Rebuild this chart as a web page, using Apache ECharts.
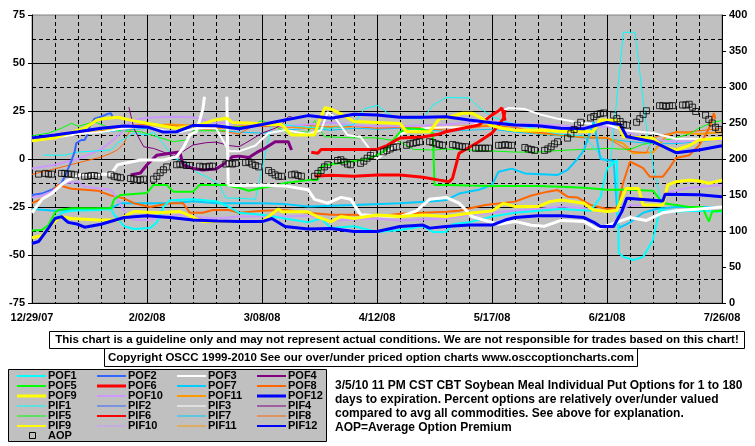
<!DOCTYPE html>
<html><head><meta charset="utf-8">
<script src="https://cdn.jsdelivr.net/npm/echarts/dist/echarts.min.js"></script>
<style>html,body{margin:0;padding:0;background:#fff}#c{width:755px;height:446px}</style>
</head><body><div id="c"></div><script>
// x values are days since 12/29/07
const dateLabels = ['12/29/07','2/02/08','3/08/08','4/12/08','5/17/08','6/21/08','7/26/08'];
const legendNames = ['POF1','POF2','POF3','POF4','POF5','POF6','POF7','POF8','POF9','POF10','POF11','POF12',
                     'PIF1','PIF2','PIF3','PIF4','PIF5','PIF6','PIF7','PIF8','PIF9','PIF10','PIF11','PIF12'];
const disclaimer = 'This chart is a guideline only and may not represent actual conditions. We are not responsible for trades based on this chart!';
const copyright = 'Copyright OSCC 1999-2010 See our over/under priced option charts www.osccoptioncharts.com';
const noteLines = ['3/5/10 11 PM CST CBT Soybean Meal Individual Put Options for 1 to 180',
  'days to expiration. Percent options are relatively over/under valued',
  'compared to avg all commodities. See above for explanation.',
  'AOP=Average Option Premium'];

const POF12 = [[0,11],[7,12.5],[14,14.2],[21,16],[28,17.2],[35,16.7],[40,14],[44,14.2],[49,17.5],[56,17.3],[63,15.8],[70,18],[77,20.3],[84,22.6],[91,21.2],[98,23.3],[105,22.9],[112,21.7],[119,21.7],[126,22],[133,20.3],[140,18.9],[147,17.7],[154,17.3],[161,16],[168,15.8],[172,17.7],[175,19],[179,18],[181,11.6],[182,11.3],[189,9],[196,3.3],[203,4.7],[210,6.9]];
const PIF12 = [[0,-44],[2,-43],[5,-36],[7,-31],[9,-30],[11,-33],[14,-34],[16,-35.5],[21,-34],[28,-30.5],[35,-29.5],[42,-30.5],[49,-31.8],[56,-32.3],[63,-32.6],[70,-32.6],[73,-31],[77,-35.2],[84,-36.5],[91,-36.2],[98,-37.8],[105,-37.8],[112,-35.2],[119,-34.4],[121,-36],[126,-35.2],[133,-34.4],[140,-34.4],[144,-31.8],[147,-30.5],[154,-29.5],[161,-29.5],[168,-30.5],[171,-33],[173,-35.2],[177,-35.2],[179.5,-27.4],[181,-20.5],[192,-21.9],[192.7,-18.4],[203,-18.6],[210,-19.6]];
const POF9 = [[0,9.5],[7,11],[14,15],[16,16],[19.8,20.3],[21.6,21],[26,21.7],[30.7,20],[35,18.6],[44,16],[51,17.7],[55,20],[59.3,21.2],[61,19],[67,18.6],[72,18],[76,18],[79,12.5],[86,12.5],[87.7,21.2],[89.2,26.7],[91,26],[93.7,23.8],[98,19.5],[105,19],[112,18.5],[114,14.2],[121,14.2],[124,21],[126.3,21.5],[131,23.8],[134,23.8],[137,21],[139.4,17.7],[143,16],[147,15],[154,15.1],[160,14.5],[170.8,14.2],[172.9,20.3],[178,20],[180,11.6],[189,10.8],[192,6.4],[196,4.7],[200,7],[203,9.9],[210,10.8]];
const PIF9 = [[0,-41],[3,-40],[6,-34],[8.5,-30],[12,-31],[20,-31.8],[26,-31.8],[31,-27.4],[38,-28],[45,-27.4],[48,-29.5],[52,-32.6],[63,-32.6],[70,-32.6],[75,-26],[76,-27.5],[84,-27.5],[87,-30.2],[91,-32.6],[94,-30],[98,-31],[105,-29.2],[112,-30],[119,-29.2],[126,-30],[133,-28.3],[140,-27.1],[143.5,-23.1],[147,-24.8],[154,-24.8],[157.6,-22.2],[161,-21.3],[168,-23.1],[170.8,-26.6],[175,-27.4],[178,-26.8],[180.8,-15.3],[184.6,-15.3],[186,-24],[192,-24],[193.5,-13.5],[196,-11.8],[200,-11],[203,-11.5],[206,-12.6],[210,-11]];
const POF3a = [[0,-28],[3,-21],[6,-18],[9.5,-12.6],[11,-11],[15,-8],[24,-8],[26,-3],[33,-0.5],[40,-0.5],[44,1.2],[46,5.6],[48,12.5],[50,14.2],[51,20],[52,26],[52.5,32.4]];
const POF3b = [[59.3,32.4],[59.7,-13.5],[62,-13.8],[70,-13.5],[77,-14],[84,-16],[86,-21],[90,-23],[94,-20],[97,-21],[100,-29],[105,-29.5],[112,-30],[117,-27],[121,-21],[126,-20],[130,-23],[134,-30],[138,-32],[142,-34],[147,-32.5],[152,-34.5],[156,-35],[161,-32],[168,-32.5],[172,-36.5],[177,-33.5],[182,-30.5],[187,-32],[192,-28],[196,-27],[203,-26],[210,-25]];
const PIF3 = [[0,9.5],[7,11],[14,13],[21,14],[28,16],[35,17],[40,15],[45,14],[50,16],[56,16],[60,4],[63,4],[68,7],[72,13.5],[77,15],[84,13],[88,15],[90,24.5],[92,22],[96,12.5],[100,11.5],[105,0],[110,6],[112,13],[119,16],[126,16.5],[133,16.5],[140,23],[145,26.5],[150,26],[155,23],[160,21],[168,18.6],[175,18],[180,15],[189,13.5],[196,10.5],[203,10.5],[210,11]];
const POF6 = [[86,-9],[91,-8.5],[98,-9],[105,-8.3],[112,-8.3],[119,-9.5],[124,-11],[127,-11.8],[128,-10],[130,3],[133,6],[136,9],[140,13.5],[142,17.7],[143.5,21],[144,25.5]];
const PIF6 = [[85,3.5],[87,3],[88,5],[98,5],[105,5],[108,7],[112,11],[119,11.5],[124,13],[126,14.2],[133,16.7],[136,17.7],[140,23],[142,25],[143,26.6],[144,20]];
const POF5 = [[0,-37.3],[3,-37],[5,-34.4],[7,-28],[8,-26.6],[12,-25.7],[24,-25.7],[25,-21],[27,-18.7],[35,-17.7],[37,-13.5],[41,-13.5],[43,-17],[49,-17],[51,-13.5],[59,-13.5],[61,-14.4],[63,-15],[66,-16.5],[70,-15],[74,-14],[77,-12.5],[84,-11],[87,-11],[88,-4],[90,-3],[98,-1],[101,-0.5],[105,2],[108,5],[110,10],[112,14],[114,16],[119,15.5],[121,14],[122,13.5],[122.5,-13.5],[126,-13.5],[133,-13.8],[140,-14],[147,-14],[154,-14],[161,-14.4],[168,-15],[175,-16],[182,-16],[189,-16.5],[192,-23],[196,-24],[200,-25],[204,-25],[206,-32.6],[207,-27.4],[210,-27]];
const PIF5 = [[0,12],[5,13.5],[9,16],[12,18.6],[14,17],[19,19.4],[21,18],[26,14.7],[33,14.2],[38,11.6],[43,9],[47,10],[49,14.7],[59,14.7],[61,16.6],[66,17],[70,20],[74,17],[77,14.2],[84,14],[86,20],[89,11.6],[98,11],[105,11],[112,9],[116,5],[122,4.7],[126,5.2],[133,4.7],[140,4.2],[147,3.6],[154,3.6],[161,4.5],[168,5],[175,5.5],[182,5],[186,7.7],[189,8.5],[196,11],[200,13],[203,16],[207,19],[210,20]];
const POF4 = [[30,-8.3],[33,-7.3],[35,-3],[38,2],[42,3],[45,3.6],[46,-3],[49,-5],[52,-5.7],[56,-5.2],[59,-2],[61,1.2],[63,1.5],[66,0.8],[69,4],[71,5.7],[74,9],[78,9],[79,4.7]];
const PIF4 = [[29.5,27],[31,16],[32.5,11],[34,6.4],[37,5.5],[40,3.6],[43,1.5],[46,4],[49,7.3],[53,8.5],[56,8.8],[60,7],[63,6.4],[65,8.3],[70,13.5],[74,16],[76,18],[78,22],[79,22]];
const POF2 = [[0,-18.8],[3,-18],[6,-16],[9,-12.5],[10,-9],[11,-5],[12,-1],[13,4],[13.5,8.3],[15,9.9],[16,9.9],[17,13],[17.5,16.8],[19,21],[21,22],[23,23.5],[24,23.8],[24.5,22]];
const POF1 = [[0,-41],[3,-40],[6,-33],[9,-28],[12,-27],[20,-26.5],[24,-26],[25,-29],[28,-35],[31,-36.5],[36,-36],[38,-33],[40,-25],[42,-21.5],[49,-21],[56,-22],[60,-25],[63,-28],[70,-29],[77,-31],[84,-33],[88,-31],[91,-36],[98,-35],[105,-38],[112,-37],[119,-35],[122,-38],[126,-38],[128,-34],[133,-33],[140,-30],[147,-28],[154,-27],[161,-26],[170,-27],[173,-20],[175,-5],[178,-0.5],[178.6,-49],[180,-51],[183,-52.6],[186,-51],[189,-42],[191,-26.6],[196,-27.4],[203,-27],[210,-27.5]];
const PIF1 = [[3.5,2],[10,2],[14,3.6],[24,4.7],[26,8.3],[31,13.5],[35,12.5],[37,14],[40,8],[43,0.5],[47,-2],[50,-6.8],[54,-10],[57,-13.5],[59,-20.3],[64,-20.5],[68,-21],[70,-5],[73,17.7],[77,17.7],[84,16.5],[91,16],[98,18],[101,26],[105,28],[109,23],[112,21.5],[119,21],[122,28],[126,32],[133,31.8],[136,27],[140,22],[145,19],[150,17],[155,15],[160,13],[168,12],[174,0],[176,-3],[180,66],[183.5,66],[187,16.7],[189,-3],[192,-27],[200,-26],[210,-25]];
const POF7 = [[0,-26],[7,-27],[12,-26.6],[24,-25.7],[27,-23],[35,-23],[42,-23],[49,-22],[56,-23],[63,-23],[70,-23],[77,-23.5],[84,-24.8],[98,-24],[112,-23],[122,-22],[126,-21.4],[130,-18],[136,-16],[140,-13.5],[142,-6.6],[146,-5],[150,-7.5],[160,-8.3],[163,-5.7],[166,0],[168,4.7],[170,15],[171,19.4],[173,0],[177,-1],[178.5,-36],[182,-33],[186,-28],[190,-26],[196,-25],[210,-25]];
const PIF7 = [[0,10],[14,13],[28,15],[35,16],[42,14],[49,16],[56,15],[63,14],[70,13.5],[77,15],[84,16],[91,15],[98,16],[105,15.5],[112,16],[119,15],[126,14.5],[133,15],[140,15.5],[147,14],[154,13],[161,12],[168,11],[175,10.5],[182,9],[189,8],[196,8],[203,9],[210,10]];
const POF8 = [[0,-23],[4,-20],[6,-17],[8,-13.5],[12,-15.5],[20,-16.5],[24,-19],[28,-20.5],[31,-23],[36,-25],[42,-23],[46,-23],[48,-28],[52,-28],[55,-26.6],[60,-26.6],[63,-28],[70,-27],[77,-26.6],[84,-28],[91,-29],[98,-29],[105,-30],[112,-28.5],[119,-28],[126,-27.5],[130,-27],[135,-25],[138,-24],[147,-22.2],[152,-19],[157,-17],[160,-16.2],[163,-19.6],[166,-20],[170,-24],[175,-26],[178,-25.5],[180,-12],[182,-1.4],[184,-3],[186,-4.7],[188,-9.2],[192,-9.2],[194,-4.7],[196,0.5],[200,2],[203,7],[205,12.5],[206.5,17.7],[207.5,24],[208,21]];
const PIF8 = [[0,-8],[5,-6],[14,-2],[21,1],[24,3],[26,4.7],[28,8],[29,12.5],[30,15],[31,17.7],[35,18],[42,17.5],[49,16],[56,15],[63,13],[67,17],[72,17],[77,16.5],[84,17.5],[91,16.5],[98,17],[105,16],[112,16.5],[119,16],[126,15],[133,16],[140,17.5],[147,16.5],[154,14],[161,12.5],[168,11],[175,11],[178,8],[182,4],[187,3.3],[189,11],[192,12.5],[196,14],[200,14.2],[205,15],[210,16]];
const POF10 = [[0,-5],[7,-3],[14,0],[21,5],[24,9],[28,15],[30,20],[35,21.5],[42,22],[49,21.7],[56,19],[63,18.5],[70,18],[77,17],[84,18],[91,19],[98,17.5],[105,17],[112,17],[119,17.5],[126,18],[133,19],[140,19.5],[147,18],[154,18],[161,17.5],[168,16.5],[175,17],[180,15],[184,12],[189,10],[196,9],[203,9.5],[210,10]];
const PIF10 = [[0,-20],[3,-19],[6,-17],[10,-12.5],[14,-12],[16,-14.5],[24,-16],[26,-21],[29,-30],[31,-31.8],[35,-31.8],[40,-30.5],[45,-29],[48,-30],[56,-31],[63,-30],[70,-30],[77,-30],[84,-29.5],[91,-32],[98,-31.5],[105,-31],[112,-32],[119,-31.5],[126,-31],[133,-29],[140,-28],[147,-27],[154,-26],[161,-24.8],[168,-25.5],[172,-27.4],[178,-27.4],[182,-24],[190,-24.5],[193,-17.7],[200,-15],[210,-13.5]];
const POF11 = [[0,10],[14,13],[28,16],[35,17.5],[42,18],[49,17.5],[56,16],[63,17],[70,18],[77,17],[84,16],[91,16.5],[98,17],[105,17],[112,16.5],[119,16],[126,16.5],[133,17],[140,17.5],[147,15],[154,13.5],[161,12.5],[168,11.5],[175,11],[180,8],[183,3],[189,3.5],[193,12],[196,14],[203,13],[210,14]];
// AOP (right axis), one row per week Mon..Fri, null = no trading
const AOPweeks = [
 [179,null,180,179,179],[180,180,179,179,178],[176,176,177,177,176],[null,178,176,175,174],
 [173,172,171,171,172],[172,176,181,185,189],[192,193,192,191,191],[190,189,189,190,190],
 [null,193,194,193,194],[195,196,193,191,189],[184,181,178,176,176],[178,179,177,176,null],
 [176,180,184,189,192],[198,199,196,193,192],[194,197,201,205,208],[210,212,214,216,217],
 [219,221,222,223,224],[224,223,221,220,219],[220,219,218,217,217],[215,215,215,215,215],
 [219,219,220,219,219],[null,216,214,213,212],[212,214,217,221,224],[229,235,241,247,251],
 [257,259,262,263,264],[261,256,252,248,247],[251,256,262,267,null],[274,274,273,274,274],
 [275,275,276,272,266],[261,255,250,244,241]];

const colors = {c1:'#00FFFF',c2:'#3366FF',c3:'#FFFFFF',c4:'#800080',c5:'#00FF00',c6:'#FF0000',c7:'#00CCFF',c8:'#FF6600',c9:'#FFFF00',c10:'#CC99FF',c11:'#FF9900',c12:'#0000FF'};
const lineDefs = [
 [PIF7,colors.c7,1],[POF11,colors.c11,2],[PIF8,colors.c8,1],[PIF5,colors.c5,1],[POF10,colors.c10,2],
 [PIF1,colors.c1,1],[PIF4,colors.c4,1],[POF4,colors.c4,3],[POF2,colors.c2,2],[PIF3,colors.c3,2],
 [POF7,colors.c7,2],[POF8,colors.c8,2],[PIF10,colors.c10,2],[POF1,colors.c1,2],[POF5,colors.c5,2],
 [PIF6,colors.c6,3],[POF6,colors.c6,3],[POF3a,colors.c3,3],[POF3b,colors.c3,3],
 [PIF9,colors.c9,3],[POF9,colors.c9,3],[PIF12,colors.c12,3],[POF12,colors.c12,3]
];
const aopData = [];
AOPweeks.forEach((w,k)=>w.forEach((v,j)=>{ if(v!==null) aopData.push([2+7*k+j, v]); }));

const FONT = '"Liberation Sans", Arial, sans-serif';
const series = lineDefs.map(d=>({type:'line',data:d[0],xAxisIndex:0,yAxisIndex:0,showSymbol:false,symbol:'none',
  lineStyle:{color:d[1],width:d[2]},silent:true,animation:false}));
series.push({type:'scatter',data:aopData,xAxisIndex:0,yAxisIndex:2,symbol:'rect',symbolSize:6,
  itemStyle:{color:'rgba(0,0,0,0)',borderColor:'#000',borderWidth:1},silent:true,animation:false,z:5});

// legend + text graphics
const g = [];
g.push({type:'rect',shape:{x:49.5,y:331.5,width:695,height:17},style:{fill:'#fff',stroke:'#000',lineWidth:1}});
g.push({type:'text',style:{text:disclaimer,x:397,y:340,font:'bold 11.5px '+FONT,fill:'#000',textAlign:'center',textVerticalAlign:'middle',align:'center',verticalAlign:'middle'}});
g.push({type:'rect',shape:{x:104.5,y:348.5,width:533,height:18},style:{fill:'#fff',stroke:'#000',lineWidth:1}});
g.push({type:'text',style:{text:copyright,x:371,y:358,font:'bold 11.5px '+FONT,fill:'#000',textAlign:'center',textVerticalAlign:'middle',align:'center',verticalAlign:'middle'}});
g.push({type:'rect',shape:{x:8.5,y:369.5,width:318,height:72},style:{fill:'#C0C0C0',stroke:'#000',lineWidth:1}});
const legColors = ['c1','c2','c3','c4','c5','c6','c7','c8','c9','c10','c11','c12'];
const legW = [2,2,2,2,2,3,2,2,3,2,2,3, 1,1,1,1,1,2,1,1,2,1,1,2];
legendNames.forEach((nm,i)=>{
  const col = i%4, row = Math.floor(i/4);
  const cy = 376 + row*10;
  const x0 = 17 + col*80;
  g.push({type:'line',shape:{x1:x0,y1:cy,x2:x0+29,y2:cy},style:{stroke:colors[legColors[i%12]],lineWidth:legW[i]}});
  g.push({type:'text',style:{text:nm,x:x0+31,y:cy,font:'bold 11px '+FONT,fill:'#000',textVerticalAlign:'middle',verticalAlign:'middle'}});
});
g.push({type:'rect',shape:{x:29.5,y:432.5,width:6,height:6},style:{fill:'none',stroke:'#000',lineWidth:1}});
g.push({type:'text',style:{text:'AOP',x:48,y:436,font:'bold 11px '+FONT,fill:'#000',textVerticalAlign:'middle',verticalAlign:'middle'}});
noteLines.forEach((t,i)=>{
  g.push({type:'text',style:{text:t,x:335,y:386+i*14,font:'bold 12px '+FONT,fill:'#000',textVerticalAlign:'middle',verticalAlign:'middle'}});
});

const lblStyle = {color:'#000',fontWeight:'bold',fontSize:11,fontFamily:FONT};
const option = {
  animation:false,
  backgroundColor:'#fff',
  grid:{left:32,right:33,top:15,bottom:143,show:true,backgroundColor:'#C0C0C0',borderColor:'#808080',borderWidth:1},
  xAxis:[
    {type:'value',min:0,max:210,interval:7,position:'bottom',axisLine:{show:false},axisTick:{show:false},axisLabel:{show:false},
     splitLine:{show:true,lineStyle:{color:'#000',width:1,type:[4,3]}}},
    {type:'value',min:0,max:210,interval:35,position:'bottom',axisLine:{show:true,onZero:false,lineStyle:{color:'#000',width:1}},axisTick:{show:false},
     axisLabel:Object.assign({margin:9,formatter:v=>dateLabels[Math.round(v/35)]},lblStyle),
     splitLine:{show:true,lineStyle:{color:'#000',width:1}}}
  ],
  yAxis:[
    {type:'value',min:-75,max:75,interval:12.5,position:'left',axisLine:{show:false},axisTick:{show:false},axisLabel:{show:false},
     splitLine:{show:true,showMaxLine:false,lineStyle:{color:'#000',width:1,type:[4,3]}}},
    {type:'value',min:-75,max:75,interval:25,position:'left',axisLine:{show:true,onZero:false,lineStyle:{color:'#000',width:1}},
     axisTick:{show:true,length:4,lineStyle:{color:'#000'}},axisLabel:Object.assign({margin:7},lblStyle),
     splitLine:{show:true,showMaxLine:false,lineStyle:{color:'#000',width:1}}},
    {type:'value',min:0,max:400,interval:50,position:'right',axisLine:{show:true,onZero:false,lineStyle:{color:'#000',width:1}},
     axisTick:{show:true,length:4,lineStyle:{color:'#000'}},axisLabel:Object.assign({margin:7},lblStyle),splitLine:{show:false}}
  ],
  series:series,
  graphic:g
};
const chart = echarts.init(document.getElementById('c'),null,{renderer:'canvas'});
chart.setOption(option);
</script></body></html>
